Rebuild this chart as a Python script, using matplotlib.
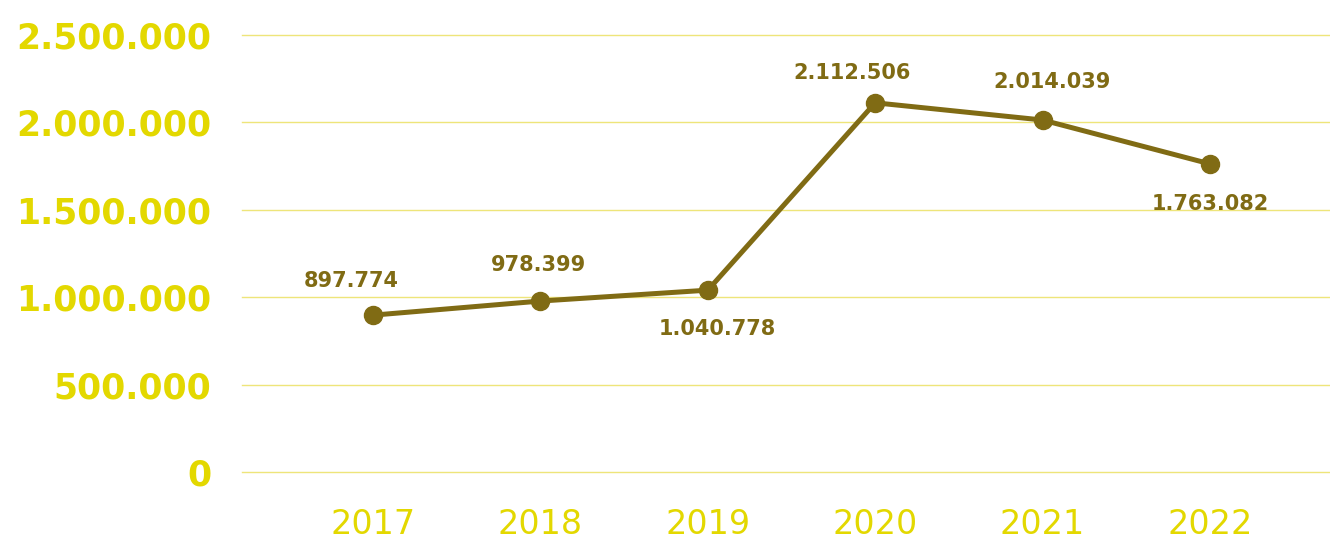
import matplotlib.pyplot as plt

# data
years = ["2017", "2018", "2019", "2020", "2021", "2022"]
values = [897774, 978399, 1040778, 2112506, 2014039, 1763082]
y_ticks = [0, 500000, 1000000, 1500000, 2000000, 2500000]

# label offsets (pixels, relative to point) -- styling only
label_offsets = [(-22, 34), (-2, 36), (9, -39), (-23, 30), (9, 38), (0, -40)]

YELLOW = "#e3d800"
OLIVE = "#806b14"
GRID = "#eee57a"


def dotted(v):
    return f"{int(v):,}".replace(",", ".")


fig = plt.figure(figsize=(13.3, 5.42), dpi=100)
ax = fig.add_axes([0.182, 0.129, 0.818, 0.8063])

x = list(range(len(years)))
ax.plot(x, values, color=OLIVE, lw=3.6, marker="o", ms=13, clip_on=False, zorder=3)

for xi, v, (dx, dy) in zip(x, values, label_offsets):
    ax.annotate(dotted(v), (xi, v), xytext=(dx * 0.72, dy * 0.72), textcoords="offset points",
                ha="center", va="center", fontsize=15, fontweight="bold", color=OLIVE)

ax.set_ylim(0, 2500000)
ax.set_xlim(-0.7826, 5.717)
ax.set_yticks(y_ticks)
ax.set_yticklabels([dotted(t) for t in y_ticks], fontweight="bold", va="center_baseline")
ax.set_xticks(x)
ax.set_xticklabels(years)

# gridlines (clip off so the 0 line shows)
for t in y_ticks:
    ax.axhline(t, color=GRID, lw=1, clip_on=False, zorder=1)
for s in ax.spines.values():
    s.set_visible(False)

ax.tick_params(axis="y", length=0, pad=22, labelsize=25, labelcolor=YELLOW)
ax.tick_params(axis="x", length=0, pad=26, labelsize=24, labelcolor=YELLOW)

fig.savefig("out.png", dpi=100)
